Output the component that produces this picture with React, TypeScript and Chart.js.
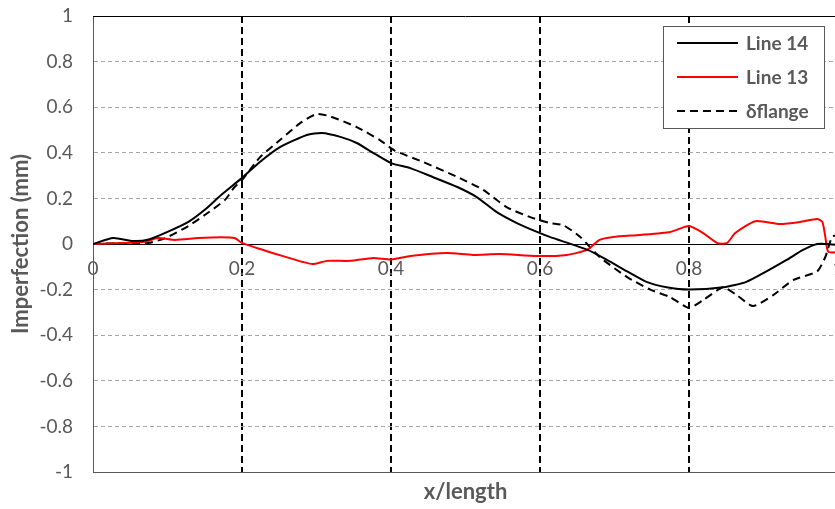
import React, { useEffect, useRef } from "react";
import { Chart, registerables } from "chart.js";
Chart.register(...registerables);

const seriesNames = ["Line 14", "Line 13", "δflange"];

const line14X = [0, 0.027, 0.054, 0.075, 0.1, 0.128, 0.15, 0.172, 0.2, 0.224, 0.251, 0.287, 0.307, 0.332, 0.354, 0.376, 0.4, 0.426, 0.456, 0.489, 0.515, 0.542, 0.569, 0.596, 0.613, 0.664, 0.69, 0.717, 0.743, 0.77, 0.8, 0.846, 0.877, 0.904, 0.931, 0.953, 0.972, 0.985, 1.0];
const line14Y = [0, 0.026, 0.013, 0.02, 0.053, 0.097, 0.15, 0.215, 0.29, 0.36, 0.425, 0.478, 0.487, 0.47, 0.443, 0.4, 0.355, 0.333, 0.294, 0.25, 0.206, 0.14, 0.092, 0.053, 0.031, -0.026, -0.07, -0.12, -0.166, -0.19, -0.2, -0.19, -0.166, -0.12, -0.07, -0.026, 0, 0, -0.005];

const line13X = [0, 0.037, 0.07, 0.087, 0.11, 0.141, 0.172, 0.19, 0.2, 0.224, 0.255, 0.282, 0.295, 0.314, 0.345, 0.376, 0.4, 0.426, 0.475, 0.51, 0.546, 0.596, 0.636, 0.663, 0.68, 0.698, 0.734, 0.775, 0.8, 0.819, 0.838, 0.851, 0.862, 0.889, 0.922, 0.949, 0.972, 0.979, 0.983, 0.987, 1.0];
const line13Y = [0, 0.004, 0.01, 0.026, 0.018, 0.026, 0.03, 0.026, 0.005, -0.022, -0.053, -0.079, -0.088, -0.074, -0.074, -0.061, -0.068, -0.053, -0.04, -0.048, -0.044, -0.053, -0.048, -0.026, 0.018, 0.031, 0.04, 0.053, 0.079, 0.048, 0.004, 0.004, 0.048, 0.1, 0.088, 0.097, 0.11, 0.097, 0.031, -0.035, -0.035];

const flangeX = [0, 0.04, 0.074, 0.097, 0.128, 0.15, 0.177, 0.19, 0.2, 0.224, 0.251, 0.278, 0.3, 0.318, 0.354, 0.385, 0.405, 0.443, 0.489, 0.524, 0.555, 0.587, 0.613, 0.631, 0.654, 0.68, 0.717, 0.748, 0.774, 0.8, 0.819, 0.846, 0.864, 0.886, 0.913, 0.94, 0.972, 0.983, 0.992, 1.0];
const flangeY = [0, 0.004, 0.004, 0.026, 0.079, 0.127, 0.193, 0.25, 0.28, 0.38, 0.456, 0.53, 0.57, 0.56, 0.513, 0.456, 0.41, 0.36, 0.294, 0.237, 0.162, 0.118, 0.092, 0.083, 0.031, -0.057, -0.145, -0.2, -0.232, -0.28, -0.246, -0.19, -0.224, -0.272, -0.224, -0.158, -0.12, -0.057, 0.031, 0.04];

const xMin = 0, xMax = 1, xStep = 0.2;
const yMin = -1, yMax = 1, yStep = 0.2;
const xTitle = "x/length";
const yTitle = "Imperfection (mm)";

const toPts = (xs: number[], ys: number[]) => xs.map((x, i) => ({ x, y: ys[i] }));
const fmt = (v: any) => String(Math.round(Number(v) * 10) / 10);

const TEXT = "#595959";
const FONT = "Lato";

const legendPlugin = {
  id: "boxLegend",
  afterDraw(chart: any) {
    const { ctx, chartArea } = chart;
    const w = 161, h = 102;
    const x0 = Math.round(chartArea.right - 14 - w);
    const y0 = Math.round(chartArea.top + 10);
    ctx.save();
    ctx.fillStyle = "#fff";
    ctx.fillRect(x0, y0, w, h);
    ctx.strokeStyle = "#595959";
    ctx.lineWidth = 1;
    ctx.strokeRect(x0 + 0.5, y0 + 0.5, w, h);
    chart.data.datasets.forEach((ds: any, i: number) => {
      const cy = y0 + 17 + i * 34;
      ctx.beginPath();
      ctx.setLineDash(ds.borderDash || []);
      ctx.strokeStyle = ds.borderColor;
      ctx.lineWidth = 2;
      ctx.moveTo(x0 + 14, cy);
      ctx.lineTo(x0 + 75, cy);
      ctx.stroke();
      ctx.setLineDash([]);
      ctx.fillStyle = TEXT;
      ctx.font = `bold 19px ${FONT}`;
      ctx.textBaseline = "middle";
      ctx.textAlign = "left";
      ctx.fillText(ds.label, x0 + 83, cy + 1);
    });
    ctx.restore();
  },
};

const topBorderPlugin = {
  id: "topBorder",
  afterDraw(chart: any) {
    const { ctx, chartArea } = chart;
    ctx.save();
    ctx.strokeStyle = "#000";
    ctx.lineWidth = 1;
    ctx.beginPath();
    ctx.moveTo(chartArea.left, Math.round(chartArea.top) + 0.5);
    ctx.lineTo(chartArea.right, Math.round(chartArea.top) + 0.5);
    ctx.stroke();
    ctx.restore();
  },
};

export default function App() {
  const ref = useRef<HTMLCanvasElement>(null);
  useEffect(() => {
    if (!ref.current) return;
    const chart = new Chart(ref.current, {
      type: "line",
      data: {
        datasets: [
          { label: seriesNames[0], data: toPts(line14X, line14Y), borderColor: "#000", borderWidth: 2, pointRadius: 0, tension: 0.2, fill: false },
          { label: seriesNames[1], data: toPts(line13X, line13Y), borderColor: "#ff0000", borderWidth: 2, pointRadius: 0, tension: 0.2, fill: false },
          { label: seriesNames[2], data: toPts(flangeX, flangeY), borderColor: "#000", borderWidth: 2, borderDash: [8, 5], pointRadius: 0, tension: 0.2, fill: false },
        ],
      },
      options: {
        animation: false,
        responsive: true,
        maintainAspectRatio: false,
        layout: { padding: { left: 0, right: 12, top: 16, bottom: 0 } },
        plugins: { legend: { display: false }, tooltip: { enabled: false } },
        scales: {
          x: {
            type: "linear",
            position: { y: 0 } as any,
            min: xMin,
            max: xMax,
            ticks: {
              stepSize: xStep,
              autoSkip: false,
              maxRotation: 0,
              padding: 13,
              color: TEXT,
              font: { family: FONT, size: 19 },
              callback: fmt,
              z: -1,
            } as any,
            grid: {
              drawTicks: false,
              lineWidth: 2,
              color: (c: any) => (c.tick && (c.tick.value === xMin || c.tick.value === xMax) ? "rgba(0,0,0,0)" : "#000"),
            },
            border: { display: true, color: "#000", width: 1, dash: [7, 4] },
            afterFit: (s: any) => { s.paddingLeft = 0; s.paddingRight = 0; },
          },
          x2: {
            type: "linear",
            position: "bottom",
            min: xMin,
            max: xMax,
            ticks: { display: false },
            grid: { display: false, drawTicks: false },
            border: { display: true, color: "#595959", width: 1 },
            title: { display: true, text: xTitle, color: TEXT, font: { family: FONT, size: 22, weight: "bold" }, padding: { top: 0, bottom: 4 } },
            afterFit: (s: any) => { s.height = 37; s.paddingLeft = 0; s.paddingRight = 0; },
          },
          y: {
            type: "linear",
            position: "left",
            min: yMin,
            max: yMax,
            ticks: { stepSize: yStep, padding: 20, color: TEXT, font: { family: FONT, size: 19 }, callback: fmt },
            grid: {
              drawTicks: false,
              lineWidth: 1,
              color: (c: any) => {
                const v = c.tick ? Math.round(c.tick.value * 100) / 100 : 0;
                return v === 0 || v === 1 || v === -1 ? "rgba(0,0,0,0)" : "#a6a6a6";
              },
            },
            border: { display: true, color: "#595959", width: 1, dash: [4, 3] },
            title: { display: true, text: yTitle, color: TEXT, font: { family: FONT, size: 22, weight: "bold" }, padding: { top: 8, bottom: 0 } },
            afterFit: (s: any) => { s.width = 93; s.paddingTop = 0; s.paddingBottom = 0; },
          },
        },
      },
      plugins: [legendPlugin, topBorderPlugin],
    });
    return () => chart.destroy();
  }, []);
  return (
    <div style={{ position: "fixed", left: 0, top: 0, width: 835, height: 509, overflow: "hidden", background: "#fff" }}>
      <div style={{ position: "relative", width: 850, height: 509 }}>
        <canvas ref={ref} />
      </div>
    </div>
  );
}
